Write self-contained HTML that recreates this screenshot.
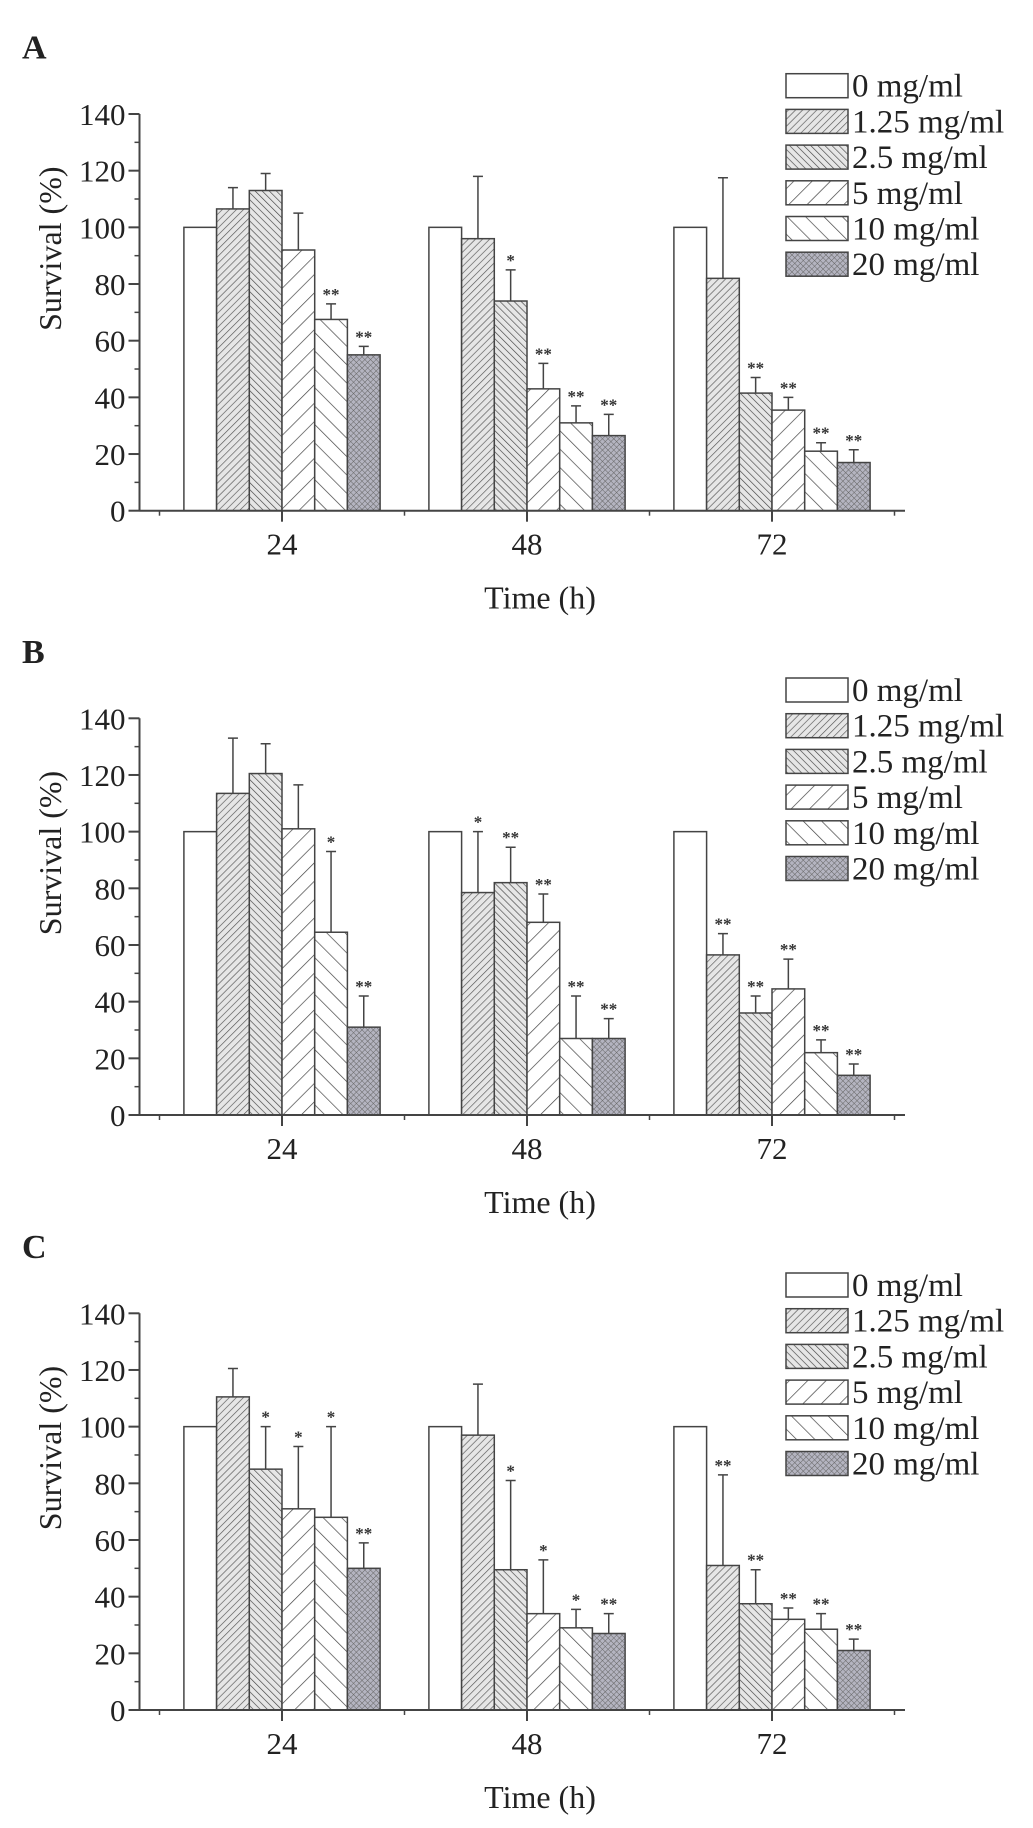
<!DOCTYPE html>
<html><head><meta charset="utf-8"><style>
html,body{margin:0;padding:0;background:#fff;}
svg{display:block;font-family:"Liberation Serif",serif;}
</style></head><body>
<svg id="chart" width="1033" height="1828" viewBox="0 0 1033 1828" xmlns="http://www.w3.org/2000/svg">
<defs>
<pattern id="p1" patternUnits="userSpaceOnUse" width="5" height="5" patternTransform="rotate(45)"><rect width="5" height="5" fill="#e6e6e6"/><line x1="0" y1="0" x2="0" y2="5" stroke="#555" stroke-width="1.3"/></pattern>
<pattern id="p2" patternUnits="userSpaceOnUse" width="5" height="5" patternTransform="rotate(-45)"><rect width="5" height="5" fill="#e6e6e6"/><line x1="0" y1="0" x2="0" y2="5" stroke="#444" stroke-width="1.3"/></pattern>
<pattern id="p3" patternUnits="userSpaceOnUse" width="13" height="13" patternTransform="rotate(45)"><rect width="13" height="13" fill="#fff"/><line x1="0" y1="0" x2="0" y2="13" stroke="#444" stroke-width="1.4"/></pattern>
<pattern id="p4" patternUnits="userSpaceOnUse" width="13" height="13" patternTransform="rotate(-45)"><rect width="13" height="13" fill="#fff"/><line x1="0" y1="0" x2="0" y2="13" stroke="#444" stroke-width="1.4"/></pattern>
<pattern id="p5" patternUnits="userSpaceOnUse" width="4" height="4" patternTransform="rotate(45)"><rect width="4" height="4" fill="#b4b4c0"/><line x1="0" y1="0" x2="0" y2="4" stroke="#666" stroke-width="1"/><line x1="0" y1="0" x2="4" y2="0" stroke="#666" stroke-width="1"/></pattern>
</defs>
</svg>
<script>
const categories = ["24", "48", "72"];
const seriesLabels = ["0 mg/ml", "1.25 mg/ml", "2.5 mg/ml", "5 mg/ml", "10 mg/ml", "20 mg/ml"];
const yTicks = [0, 20, 40, 60, 80, 100, 120, 140];
const panelLetters = ["A", "B", "C"];
// means [category][series]
const meansA = [[100,106.5,113,92,67.5,55],[100,96,74,43,31,26.5],[100,82,41.5,35.5,21,17]];
const errTopA = [[null,114,119,105,73,58],[null,118,85,52,37,34],[null,117.5,47,40,24,21.5]];
const sigA = [["","","","","**","**"],["","","*","**","**","**"],["","","**","**","**","**"]];
const meansB = [[100,113.5,120.5,101,64.5,31],[100,78.5,82,68,27,27],[100,56.5,36,44.5,22,14]];
const errTopB = [[null,133,131,116.5,93,42],[null,100,94.5,78,42,34],[null,64,42,55,26.5,18]];
const sigB = [["","","","","*","**"],["","*","**","**","**","**"],["","**","**","**","**","**"]];
const meansC = [[100,110.5,85,71,68,50],[100,97,49.5,34,29,27],[100,51,37.5,32,28.5,21]];
const errTopC = [[null,120.5,100,93,100,59],[null,115,81,53,35.5,34],[null,83,49.5,36,34,25]];
const sigC = [["","","*","*","*","**"],["","","*","*","*","**"],["","**","**","**","**","**"]];

const panels = [
  {means: meansA, err: errTopA, sig: sigA, y0: 510.7},
  {means: meansB, err: errTopB, sig: sigB, y0: 1115},
  {means: meansC, err: errTopC, sig: sigC, y0: 1710}
];
const fills = ["#fff","url(#p1)","url(#p2)","url(#p3)","url(#p4)","url(#p5)"];
const svg = document.getElementById('chart');
const NS = "http://www.w3.org/2000/svg";
const AX = 139.5, AXEND = 905, PXU = 396.7/140, BW = 32.7, C0 = 282, CSTEP = 245;
function mk(tag, attrs, parent){const e=document.createElementNS(NS,tag);for(const k in attrs)e.setAttribute(k,attrs[k]);(parent||svg).appendChild(e);return e;}
function xCat(i){return C0 + i*CSTEP;}
function barX(i,s){return xCat(i) - 3*BW + s*BW;}

panels.forEach((p, pi) => {
  const y = v => p.y0 - v*PXU;
  const g = mk('g', {});
  
  
  const t = mk('text', {x:22, y:p.y0-452, 'font-size':34, 'font-weight':'bold', fill:'#222'}, g);
  t.textContent = panelLetters[pi];
  
  
  // bars
  p.means.forEach((row, ci) => {
    row.forEach((v, si) => {
      const bx = barX(ci, si);
      const r = mk('rect', {x:bx, y:y(v), width:BW, height:v*PXU, fill:fills[si], stroke:'#444', 'stroke-width':1.5}, g);
      
      
      const et = p.err[ci][si];
      if (et !== null) {
        const cx = bx + BW/2;
        const e = mk('path', {d:`M${cx},${y(v)} V${y(et)} M${cx-5},${y(et)} H${cx+5}`, stroke:'#444', 'stroke-width':1.5, fill:'none'}, g);
        
        
      }
      const sg = p.sig[ci][si];
      if (sg) {
        const top = et !== null ? y(et) : y(v);
        const s = mk('text', {x:bx+BW/2, y:top-4, 'font-size':17, 'font-weight':'bold', 'text-anchor':'middle', fill:'#333'}, g);
        s.textContent = sg;
        
        
      }
    });
  });
  // axes
  const ya = mk('line', {x1:AX, y1:y(140), x2:AX, y2:p.y0, stroke:'#444', 'stroke-width':2}, g);
  
  
  const xa = mk('line', {x1:AX, y1:p.y0, x2:AXEND, y2:p.y0, stroke:'#444', 'stroke-width':2}, g);
  
  
  yTicks.forEach((tv, ti) => {
    mk('line', {x1:AX-11, y1:y(tv), x2:AX, y2:y(tv), stroke:'#444', 'stroke-width':2}, g);
    if (ti < yTicks.length-1) mk('line', {x1:AX-5, y1:y(tv+10), x2:AX, y2:y(tv+10), stroke:'#444', 'stroke-width':1.5}, g);
    const l = mk('text', {x:AX-14, y:y(tv)+11, 'font-size':31, 'text-anchor':'end', fill:'#222'}, g);
    l.textContent = tv;
    
    
  });
  categories.forEach((c, ci) => {
    mk('line', {x1:xCat(ci), y1:p.y0, x2:xCat(ci), y2:p.y0+11, stroke:'#444', 'stroke-width':2}, g);
    const l = mk('text', {x:xCat(ci), y:p.y0+44, 'font-size':31, 'text-anchor':'middle', fill:'#222'}, g);
    l.textContent = c;
    
    
  });
  for (let k = 0; k < 4; k++) {
    const mx = xCat(k) - CSTEP/2;
    mk('line', {x1:mx, y1:p.y0, x2:mx, y2:p.y0+5, stroke:'#444', 'stroke-width':1.5}, g);
  }
  const xt = mk('text', {x:540, y:p.y0+98, 'font-size':32, 'text-anchor':'middle', fill:'#222'}, g);
  xt.textContent = 'Time (h)';
  
  
  const yt = mk('text', {x:0, y:0, 'font-size':32, 'text-anchor':'middle', fill:'#222', transform:`translate(61,${p.y0-262}) rotate(-90)`}, g);
  yt.textContent = 'Survival (%)';
  
  
  // legend
  seriesLabels.forEach((lab, si) => {
    const ly = p.y0 - 437 + si*35.7;
    const lg = mk('g', {}, g);
    
    
    mk('rect', {x:786, y:ly, width:62, height:24, fill:fills[si], stroke:'#444', 'stroke-width':1.5}, lg);
    const lt = mk('text', {x:852, y:ly+23, 'font-size':33, fill:'#222'}, lg);
    lt.textContent = lab;
  });
});
</script>
</body></html>
